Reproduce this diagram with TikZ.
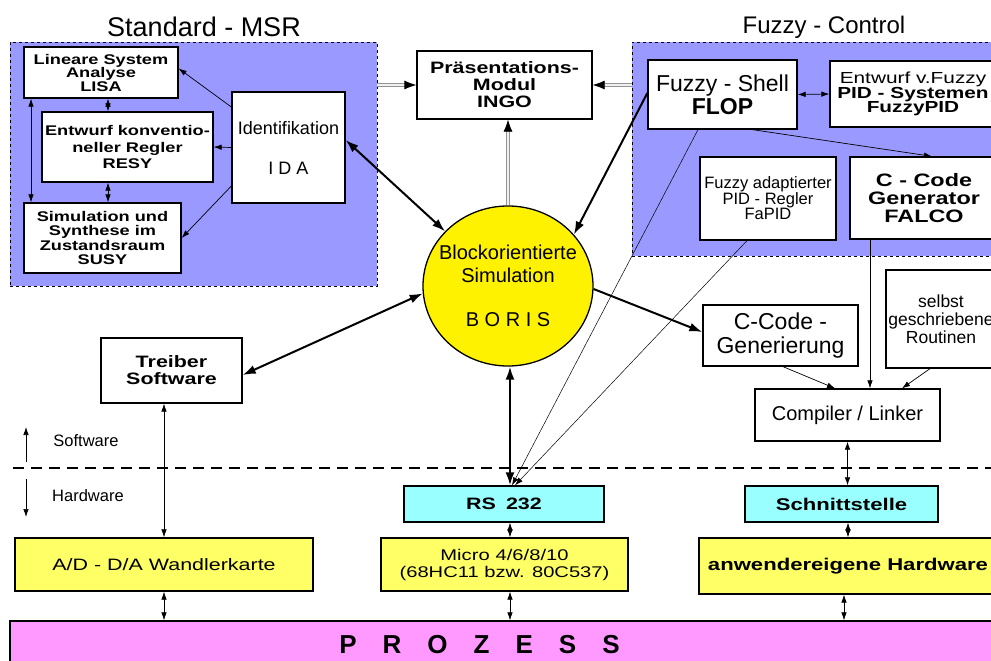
\documentclass[tikz,border=0pt]{standalone}
\usepackage{fontspec}
\setmainfont{Liberation Sans}
\newfontfamily\widesf[FakeStretch=1.3]{Liberation Sans}
\usetikzlibrary{arrows.meta, shapes.geometric}
\definecolor{panelblue}{RGB}{153,153,255}
\definecolor{hwyellow}{RGB}{255,255,102}
\definecolor{rscyan}{RGB}{153,255,255}
\definecolor{prozpink}{RGB}{255,153,255}
\newcommand{\fsz}[2]{\fontsize{#1}{#2}\selectfont}

\begin{document}
\begin{tikzpicture}[x=1pt, y=-1pt]
\tikzstyle{bx} = [draw=black, line width=1.3pt, fill=white, inner sep=0pt, align=center]
\tikzstyle{pn} = [draw=black, dashed, line width=0.6pt, fill=panelblue, inner sep=0pt]
\tikzstyle{ln} = [-{Latex[length=8pt,width=5.5pt]}, line width=0.7pt]
\tikzstyle{lnn} = [{Latex[length=8pt,width=5.5pt]}-{Latex[length=8pt,width=5.5pt]}, line width=0.7pt]
\tikzstyle{hv} = [-{Latex[length=13pt,width=9pt]}, line width=2pt]
\tikzstyle{hvv} = [{Latex[length=13pt,width=9pt]}-{Latex[length=13pt,width=9pt]}, line width=2pt]
\tikzstyle{gr} = [draw=gray!85, double=white!88!gray, double distance=1.6pt, line width=0.8pt, -{Latex[black,length=12pt,width=9pt]}]
\tikzstyle{sep} = [line width=1.5pt, dash pattern=on 11pt off 7pt]

\useasboundingbox (0,0) rectangle (991,661);

% the two tool groups
\node[pn, minimum width=367pt, minimum height=244pt] (msr) at (193.5,164) {};
\node[pn, minimum width=368pt, minimum height=214pt] (fuz) at (816,149) {};
\node[anchor=base, font=\fsz{27}{30}] (msrtitle) at (204,37) {Standard - MSR};
\node[anchor=base, font=\fsz{24}{26}] (fuztitle) at (824,34) {Fuzzy - Control};

% Standard - MSR
\node[bx, minimum width=154pt, minimum height=51pt, font=\widesf\bfseries\fsz{14}{13.5}] (lisa) at (101,72.5) {Lineare System\\Analyse\\LISA};
\node[bx, minimum width=171pt, minimum height=70pt, font=\widesf\bfseries\fsz{14}{16.5}] (resy) at (127.5,147) {Entwurf konventio-\\neller Regler\\RESY};
\node[bx, minimum width=157pt, minimum height=70pt, font=\widesf\bfseries\fsz{14}{14.5}] (susy) at (102.5,238) {Simulation und\\Synthese im\\Zustandsraum\\SUSY};
\node[bx, minimum width=113pt, minimum height=111pt, font=\fsz{18}{20}] (ida) at (288.5,147.5) {Identifikation\\[20pt]I D A};

\node[bx, minimum width=175pt, minimum height=68pt, font=\widesf\bfseries\fsz{16.5}{17}] (ingo) at (504.5,85) {Präsentations-\\Modul\\INGO};

% Fuzzy - Control
\node[bx, minimum width=149pt, minimum height=69pt, font=\fsz{23}{23}] (flop) at (722.5,94.5) {Fuzzy - Shell\\\textbf{FLOP}};
\node[bx, minimum width=166pt, minimum height=66pt, font=\widesf\fsz{16}{14.5}] (fpid) at (913,94) {Entwurf v.Fuzzy\\\textbf{PID - Systemen}\\\textbf{FuzzyPID}};
\node[bx, minimum width=136pt, minimum height=83pt, font=\fsz{16.5}{15.5}] (fapid) at (768,198.5) {Fuzzy adaptierter\\PID - Regler\\FaPID};
\node[bx, minimum width=148pt, minimum height=82pt, font=\widesf\bfseries\fsz{18}{18}] (falco) at (924,198) {C - Code\\Generator\\FALCO};

\node[draw=black, line width=1.3pt, fill=yellow, ellipse, minimum width=170pt, minimum height=160pt, inner sep=0pt, align=center, font=\fsz{20}{23}] (boris) at (508,286) {\makebox[96pt]{Blockorientierte}\\\makebox[96pt]{Simulation}\\[21pt]\makebox[96pt]{B O R I S}};

\node[bx, minimum width=155pt, minimum height=61pt, font=\fsz{23}{24}] (ccode) at (780.5,335.5) {C-Code -\\Generierung};
\node[bx, minimum width=110pt, minimum height=98pt, font=\fsz{17.5}{18}] (selbst) at (941,319) {selbst\\geschriebene\\Routinen};
\node[bx, minimum width=185pt, minimum height=52pt, font=\fsz{20}{20}] (comp) at (847.5,415) {Compiler / Linker};
\node[bx, minimum width=141pt, minimum height=65pt, font=\widesf\bfseries\fsz{16.5}{17}] (treiber) at (171.5,370.5) {Treiber\\Software};

% hardware
\node[bx, fill=rscyan, minimum width=200pt, minimum height=36pt, font=\widesf\bfseries\fsz{16.5}{17}] (rs) at (504,504) {RS\hspace{10pt}232};
\node[bx, fill=rscyan, minimum width=193pt, minimum height=36pt, font=\widesf\bfseries\fsz{17}{17}] (schnitt) at (841.5,504) {Schnittstelle};
\node[bx, fill=hwyellow, minimum width=298pt, minimum height=53pt, font=\widesf\fsz{16.5}{17}] (adda) at (164,564.5) {A/D - D/A\hspace{6pt}Wandlerkarte};
\node[bx, fill=hwyellow, minimum width=247pt, minimum height=53pt, font=\widesf\fsz{15.5}{17}] (micro) at (504.5,564.5) {Micro\hspace{6pt}4/6/8/10\\(68HC11 bzw. 80C537)};
\node[bx, fill=hwyellow, minimum width=298pt, minimum height=56pt, font=\widesf\bfseries\fsz{17}{17}] (anw) at (848,566) {anwendereigene Hardware};
\node[bx, fill=prozpink, minimum width=990pt, minimum height=48pt, font=\bfseries\fsz{26}{26}] (proz) at (505,645) {P\hspace{26pt}R\hspace{26pt}O\hspace{26pt}Z\hspace{26pt}E\hspace{26pt}S\hspace{26pt}S\rule{51pt}{0pt}};

% software / hardware border
\node[anchor=base, font=\fsz{16.5}{17}] (swlab) at (86,446) {Software};
\node[anchor=base, font=\fsz{16.5}{17}] (hwlab) at (88,501) {Hardware};
\coordinate (swtop) at (26,427);
\coordinate (swbot) at (26,462);
\coordinate (hwtop) at (26,479);
\coordinate (hwbot) at (26,517);
\coordinate (sepl) at (13,468);
\coordinate (sepr) at (991,468);
\draw[sep] (sepl) to (sepr);
\draw[ln] (swbot) to (swtop);
\draw[ln] (hwtop) to (hwbot);

\draw[ln] ([yshift=40.5pt]ida.west) to ([yshift=4pt]lisa.east);
\draw[ln] (ida.west) to (resy.east);
\draw[ln] ([yshift=-38.5pt]ida.west) to (susy.east);
\draw[lnn] ([xshift=7pt]lisa.south) to ([xshift=7pt]lisa.south |- resy.north);
\draw[lnn] ([xshift=-19.5pt]resy.south) to ([xshift=-19.5pt]resy.south |- susy.north);
\draw[lnn] ([xshift=-70pt]lisa.south) to ([xshift=-70pt]lisa.south |- susy.north);

\draw[gr] (msr.east |- ingo.west) to (ingo.west);
\draw[gr] (fuz.west |- ingo.east) to (ingo.east);
\draw[gr] (boris.north) to (boris.north |- ingo.south);

\draw[lnn] (flop.east) to (fpid.west);
\draw[ln] ([xshift=30pt]flop.south) to ([xshift=8pt]falco.north);
\draw[ln, line width=0.5pt] ([xshift=-24.5pt]flop.south) to ([xshift=8pt]rs.north);
\draw[ln, line width=0.5pt] ([xshift=-21pt]fapid.south) to ([xshift=11pt]rs.north);

\draw[hvv] ([yshift=7.5pt]ida.east) to (boris.139);
\draw[hv] ([yshift=1.5pt]flop.west) to (boris.38);
\draw[hvv] (boris.185) to ([yshift=-4.5pt]treiber.east);
\draw[hv] (boris.-2) to ([yshift=3.5pt]ccode.west);
\draw[hvv] ([xshift=2pt]boris.south) to ([xshift=2pt]boris.south |- rs.north);

\draw[ln] ([xshift=2.5pt]ccode.south) to ([xshift=-12.5pt]comp.north);
\draw[ln] ([xshift=-54pt]falco.south) to ([xshift=-54pt]falco.south |- comp.north);
\draw[ln] ([xshift=-11pt]selbst.south) to ([xshift=54.5pt]comp.north);
\draw[lnn] (comp.south) to (comp.south |- schnitt.north);
\draw[lnn] ([xshift=6.5pt]schnitt.south) to ([xshift=6.5pt]schnitt.south |- anw.north);
\draw[lnn] ([xshift=-4pt]anw.south) to ([xshift=-4pt]anw.south |- proz.north);

\draw[lnn] ([xshift=-7.5pt]treiber.south) to ([xshift=-7.5pt]treiber.south |- adda.north);
\draw[lnn] (adda.south) to (adda.south |- proz.north);
\draw[lnn] ([xshift=6pt]rs.south) to ([xshift=6pt]rs.south |- micro.north);
\draw[lnn] ([xshift=5.5pt]micro.south) to ([xshift=5.5pt]micro.south |- proz.north);
\end{tikzpicture}
\end{document}
